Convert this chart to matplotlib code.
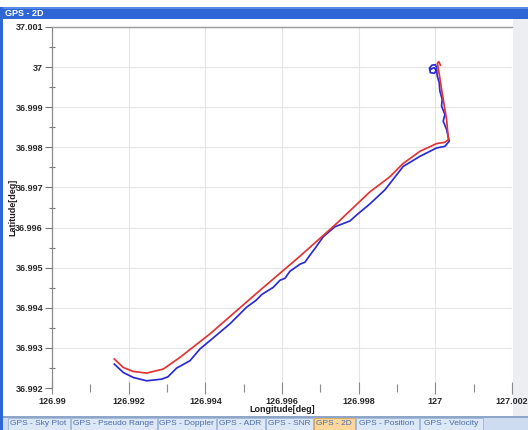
import matplotlib
matplotlib.use("Agg")
import matplotlib.pyplot as plt
from matplotlib.patches import Rectangle

# ---------------- data ----------------
red_lon = [126.991625, 126.991859, 126.992120, 126.992470, 126.992903, 126.993338,
           126.994121, 126.995425, 126.996468, 126.997381, 126.998293, 126.998815,
           126.999154, 126.999597, 127.000033, 127.000249, 127.000341, 127.000294,
           127.000184, 127.000106, 127.000054, 127.000093, 127.000132]
red_lat = [36.992723, 36.992512, 36.992412, 36.992372, 36.992472, 36.992763,
           36.993349, 36.994434, 36.995286, 36.996063, 36.996890, 36.997266,
           36.997592, 36.997900, 36.998093, 36.998126, 36.998193, 36.998694,
           36.999321, 36.999797, 37.000098, 37.000135, 37.000048]

blue_lon = [126.991625, 126.991859, 126.992120, 126.992470, 126.992861, 126.993025,
            126.993252, 126.993599, 126.993860, 126.994121, 126.994642, 126.995078,
            126.995320, 126.995477, 126.995771, 126.995946, 126.996077, 126.996207,
            126.996468, 126.996598, 126.996729, 126.996885, 126.997075, 126.997381,
            126.997772, 126.997947, 126.998293, 126.998685, 126.999162, 126.999597,
            127.000033, 127.000249, 127.000362, 127.000294, 127.000205, 127.000249,
            127.000163, 127.000179, 127.000119, 127.000101, 127.000049, 127.000028,
            127.000002, 126.999910, 126.999845, 126.999871, 126.999976, 127.000028,
            126.999962, 126.999884]
blue_lat = [36.992597, 36.992387, 36.992262, 36.992179, 36.992221, 36.992279,
            36.992497, 36.992680, 36.992973, 36.993181, 36.993600, 36.994016,
            36.994184, 36.994334, 36.994509, 36.994685, 36.994735, 36.994910,
            36.995086, 36.995136, 36.995311, 36.995512, 36.995770, 36.996021,
            36.996163, 36.996314, 36.996589, 36.996940, 36.997524, 36.997775,
            36.997985, 36.998025, 36.998151, 36.998444, 36.998652, 36.998820,
            36.999028, 36.999196, 36.999404, 36.999614, 36.999780, 36.999998,
            37.000060, 37.000048, 36.999973, 36.999860, 36.999847, 36.999922,
            36.999985, 36.999947]

x_ticks = [126.990, 126.992, 126.994, 126.996, 126.998, 127.000, 127.002]
x_tick_labels = ["126.99", "126.992", "126.994", "126.996", "126.998", "127", "127.002"]
x_minor = [126.991, 126.993, 126.995, 126.997, 126.999, 127.001]
y_ticks = [36.992, 36.993, 36.994, 36.995, 36.996, 36.997, 36.998, 36.999, 37.000, 37.001]
y_tick_labels = ["36.992", "36.993", "36.994", "36.995", "36.996", "36.997",
                 "36.998", "36.999", "37", "37.001"]
y_minor = [36.9925, 36.9935, 36.9945, 36.9955, 36.9965, 36.9975, 36.9985, 36.9995, 37.0005]

window_title = "GPS - 2D"
tab_names = ["GPS - Sky Plot", "GPS - Pseudo Range", "GPS - Doppler", "GPS - ADR",
             "GPS - SNR", "GPS - 2D", "GPS - Position", "GPS - Velocity"]
active_tab = 5

# ---------------- layout ----------------
W, H = 528, 430
fig = plt.figure(figsize=(W / 100, H / 100), dpi=100)
fig.patch.set_facecolor("white")

def fx(x):
    return x / W

def fy(y):
    return 1 - y / H

def prect(x0, y0, x1, y1, **kw):
    r = Rectangle((fx(x0), fy(y1)), fx(x1) - fx(x0), fy(y0) - fy(y1),
                  transform=fig.transFigure, **kw)
    fig.patches.append(r)
    return r

# right gray panel (behind the axes and their labels)
prect(513, 19, W, 416, facecolor="#eceef2", edgecolor="none", zorder=-5)

ax_l, ax_r, ax_t, ax_b = 52, 512, 27, 388
ax = fig.add_axes([fx(ax_l), fy(ax_b), fx(ax_r) - fx(ax_l), fy(ax_t) - fy(ax_b)])
ax.set_facecolor("white")
ax.set_zorder(1)

ax.plot(blue_lon, blue_lat, color="#2b2bd6", lw=1.25, solid_joinstyle="round", zorder=3)
ax.plot(red_lon, red_lat, color="#e23434", lw=1.25, solid_joinstyle="round", zorder=4)

ax.set_xlim(126.990, 127.002)
ax.set_ylim(36.992, 37.001)

lab_font = dict(family=["Liberation Sans", "DejaVu Sans"], weight="bold", size=6.5)

ax.set_xticks(x_ticks)
ax.set_xticklabels(x_tick_labels, **lab_font, color="#2a2a2a")
ax.set_xticks(x_minor, minor=True)
ax.set_yticks(y_ticks)
ax.set_yticklabels(y_tick_labels, **lab_font, color="#2a2a2a")
ax.set_yticks(y_minor, minor=True)

ax.tick_params(axis="x", which="major", direction="inout", length=9, width=0.8,
               color="#8a8a8a", pad=2)
ax.tick_params(axis="x", which="minor", direction="inout", length=6, width=0.8,
               color="#8a8a8a")
ax.tick_params(axis="y", which="major", direction="out", length=5, width=0.8,
               color="#777777", pad=1.5)
ax.tick_params(axis="y", which="minor", direction="inout", length=5, width=0.8,
               color="#777777")

ax.grid(True, which="major", color="#e4e4e4", lw=0.8, zorder=0)
ax.set_axisbelow(True)

for s in ["right", "bottom"]:
    ax.spines[s].set_visible(False)
ax.spines["top"].set_color("#9c9c9c")
ax.spines["top"].set_linewidth(1.0)
ax.spines["left"].set_color("#8c8c8c")
ax.spines["left"].set_linewidth(0.9)

ax.set_xlabel("Longitude[deg]", **lab_font, color="#1e1e1e")
ax.set_ylabel("Latitude[deg]", **lab_font, color="#1e1e1e")
ax.xaxis.set_label_coords(0.5, -(405 - ax_b) / (ax_b - ax_t))
ax.yaxis.set_label_coords(-(ax_l - 17) / (ax_r - ax_l), 0.5)

# title bar
prect(0, 7, W, 19, facecolor="#2f66d6", edgecolor="none", zorder=5)
prect(0, 7, W, 9, facecolor="#5a8ae6", edgecolor="none", zorder=5)
fig.text(fx(5), fy(13.5), window_title, color="white", va="center", ha="left",
         family=["Liberation Sans", "DejaVu Sans"], weight="bold", size=6.5, zorder=6)
# left border
prect(0, 7, 3, H, facecolor="#2f66d6", edgecolor="none", zorder=5)

# tab bar
prect(3, 416, W, H, facecolor="#cddcf1", edgecolor="none", zorder=5)
prect(3, 416, W, 417.5, facecolor="#8fa6c8", edgecolor="none", zorder=5)
tab_edges = [7, 70, 157, 216, 265, 313, 355, 419, 483]
for i, name in enumerate(tab_names):
    x0, x1 = tab_edges[i], tab_edges[i + 1]
    if i == active_tab:
        fc, ec = "#fad79c", "#d9a050"
    else:
        fc, ec = "#dce8f7", "#9db4d6"
    prect(x0 + 0.5, 417.5, x1 - 0.5, 429.5, facecolor=fc, edgecolor=ec, lw=0.6, zorder=6)
    fig.text(fx((x0 + x1) / 2), fy(423.5), name, color="#4a6aa6", ha="center",
             va="center", family=["Liberation Sans", "DejaVu Sans"], size=6.0, zorder=7)

fig.savefig("out.png", dpi=100, facecolor=fig.get_facecolor())
